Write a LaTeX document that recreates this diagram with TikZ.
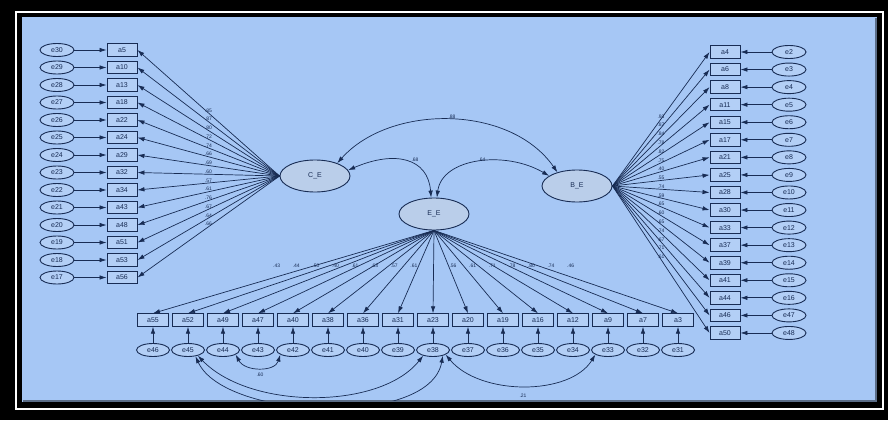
\documentclass[tikz,border=0pt]{standalone}
\usepackage{fontspec}
\setmainfont{Liberation Sans}
\usetikzlibrary{arrows.meta,shapes.geometric}
\definecolor{bg}{RGB}{166,199,245}
\definecolor{ln}{RGB}{24,44,84}
\definecolor{lat}{RGB}{186,206,234}
\begin{document}
\begin{tikzpicture}[x=1pt,y=-1pt,
  obs/.style={draw=ln, line width=0.9pt, fill=bg!85!white, minimum width=30pt, minimum height=12.5pt, inner sep=0pt, text=ln, font=\fontsize{7}{7}\selectfont},
  err/.style={ellipse, draw=ln, line width=0.9pt, fill=bg!85!white, minimum width=34pt, minimum height=13pt, inner sep=0pt, text=ln, font=\fontsize{7}{7}\selectfont},
  latent/.style={ellipse, draw=ln, line width=0.9pt, fill=lat, minimum width=70pt, minimum height=32pt, inner sep=0pt, text=ln, font=\fontsize{7}{7}\selectfont},
  ar/.style={draw=ln, line width=0.7pt, -{Latex[length=7pt,width=4.5pt]}},
  dar/.style={draw=ln, line width=0.7pt, {Latex[length=7pt,width=4.5pt]}-{Latex[length=7pt,width=4.5pt]}},
  lab/.style={text=ln, inner sep=0.5pt, font=\fontsize{5}{5}\selectfont}
]
\useasboundingbox (0,0) rectangle (888,420);
\fill[black] (0,0) rectangle (888,420);
\draw[white, line width=1.6pt] (16,12) rectangle (883,409);
\fill[bg] (22,17) rectangle (877,402);
\draw[bg!55!black, line width=2pt] (876,18) -- (876,401) -- (23,401);

% latent variables
\node[latent] (CE) at (315,176) {C\_E};
\node[latent] (EE) at (434,214) {E\_E};
\node[latent] (BE) at (577,186) {B\_E};

% left block
\foreach \ev/\av/\lv [count=\i from 0] in {30/5/.85,29/10/.87,28/13/.80,27/18/.72,26/22/.74,25/24/.66,24/29/.69,23/32/.60,22/34/.57,21/43/.61,20/48/.76,19/51/.67,18/53/.64,17/56/.66}{
  \pgfmathsetmacro\yy{50+17.5*\i}
  \node[err] (le\i) at (57,\yy) {e\ev};
  \node[obs] (la\i) at (122,\yy) {a\av};
  \draw[ar] (le\i) -- (la\i);
  \draw[ar] (CE.west) -- node[lab, pos=0.5, above] (ll\i) {\lv} (la\i.east);
}

% right block
\foreach \ev/\av/\lv [count=\i from 0] in {2/4/.93,3/6/.87,4/8/.84,5/11/.78,6/15/.82,7/17/.75,8/21/.40,9/25/.55,10/28/.74,11/30/.59,12/33/.65,13/37/.60,14/39/.65,15/41/.74,16/44/.67,47/46/.71,48/50/.61}{
  \pgfmathsetmacro\yy{52+17.56*\i}
  \node[obs] (ra\i) at (725,\yy) {a\av};
  \node[err] (re\i) at (789,\yy) {e\ev};
  \draw[ar] (re\i) -- (ra\i);
  \draw[ar] (BE.east) -- node[lab, pos=0.5, above] (rl\i) {\lv} (ra\i.west);
}

% bottom block
\foreach \ev/\av [count=\i from 0] in {46/55,45/52,44/49,43/47,42/40,41/38,40/36,39/31,38/23,37/20,36/19,35/16,34/12,33/9,32/7,31/3}{
  \pgfmathsetmacro\xx{153+35*\i}
  \node[obs, minimum width=31pt] (ba\i) at (\xx,320) {a\av};
  \node[err, minimum width=33pt] (be\i) at (\xx,350) {e\ev};
  \draw[ar] (be\i) -- (ba\i);
  \draw[ar] (EE.south) -- (ba\i.north);
}
\foreach \lv/\i in {.43/0,.44/1,.50/2,.40/3,.61/4,.63/5,.57/6,.61/7,.56/9,.61/10,.71/11,.78/12,.80/13,.74/14,.46/15}{
  \pgfmathsetmacro\lx{434+0.56*(153+35*\i-434)}
  \node[lab] (bl\i) at (\lx,266) {\lv};
}

% correlations among latent variables
\draw[dar] (CE.30) .. controls (390,104) and (510,104) .. (BE.145);
\draw[dar] (CE.10) .. controls (395,150) and (428,158) .. (EE.100);
\draw[dar] (EE.80) .. controls (442,158) and (505,150) .. (BE.160);
\node[lab] (c1) at (452,117) {.88};
\node[lab] (c2) at (415,160) {.68};
\node[lab] (c3) at (482,160) {.64};

% error covariances
\begin{scope}
\clip (22,17) rectangle (875,400);
\draw[dar] (be2.-20) .. controls (245,372) and (275,372) .. (be4.-160);
\draw[dar] (be1.-30) .. controls (250,410) and (380,410) .. (be8.-150);
\draw[dar] (be8.-30) .. controls (430,428) and (225,420) .. (be1.-40);
\draw[dar] (be8.-20) .. controls (480,396) and (570,396) .. (be13.-160);
\end{scope}
\node[lab] (s1) at (260,375) {.60};
\node[lab] (s2) at (523,396) {.21};
\end{tikzpicture}
\end{document}
